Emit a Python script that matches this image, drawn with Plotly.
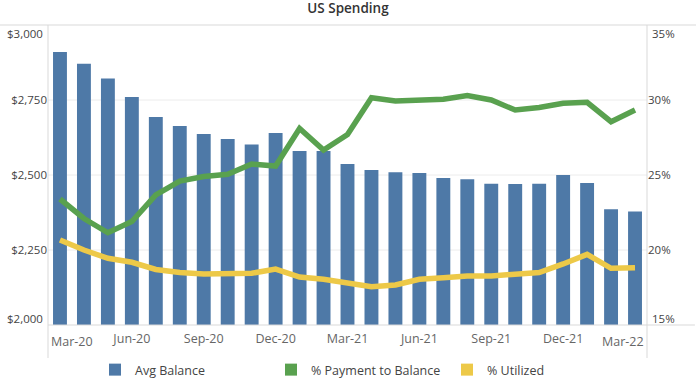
import plotly.graph_objects as go

months = ["Mar-20", "Apr-20", "May-20", "Jun-20", "Jul-20", "Aug-20", "Sep-20", "Oct-20",
          "Nov-20", "Dec-20", "Jan-21", "Feb-21", "Mar-21", "Apr-21", "May-21", "Jun-21",
          "Jul-21", "Aug-21", "Sep-21", "Oct-21", "Nov-21", "Dec-21", "Jan-22", "Feb-22", "Mar-22"]
avg_balance = [2910, 2871, 2822, 2760, 2693, 2663, 2637, 2620, 2602, 2640, 2580, 2580, 2537,
               2517, 2509, 2507, 2490, 2486, 2471, 2470, 2471, 2500, 2473, 2386, 2378]
pct_payment = [23.4, 22.1, 21.15, 21.9, 23.67, 24.6, 24.9, 25.05, 25.73, 25.6, 28.1, 26.67, 27.7,
               30.15, 29.93, 30.0, 30.05, 30.3, 30.0, 29.33, 29.5, 29.78, 29.85, 28.55, 29.33]
pct_utilized = [20.67, 20.0, 19.45, 19.18, 18.7, 18.5, 18.4, 18.4, 18.45, 18.73, 18.2, 18.05, 17.78,
                17.55, 17.67, 18.05, 18.15, 18.27, 18.27, 18.4, 18.5, 19.07, 19.71, 18.78, 18.82]
tick_months = ["Mar-20", "Jun-20", "Sep-20", "Dec-20", "Mar-21", "Jun-21", "Sep-21", "Dec-21", "Mar-22"]
left_ticks = [2000, 2250, 2500, 2750, 3000]
right_ticks = [15, 20, 25, 30, 35]

BLUE = "#4e79a7"
GREEN = "#59a14f"
YELLOW = "#edc948"
FONT = "Open Sans"
TICK_COLOR = "#444"

fig = go.Figure()
fig.add_trace(go.Bar(x=months, y=avg_balance, marker_color=BLUE, marker_line_width=0,
                     name="Avg Balance", showlegend=False))
fig.add_trace(go.Scatter(x=months, y=pct_payment, yaxis="y2", mode="lines",
                         line=dict(color=GREEN, width=5.5), showlegend=False))
fig.add_trace(go.Scatter(x=months, y=pct_utilized, yaxis="y2", mode="lines",
                         line=dict(color=YELLOW, width=5.5), showlegend=False))
# legend-only entries with square swatches
for name, col in [("Avg Balance", BLUE), ("% Payment to Balance", GREEN), ("% Utilized", YELLOW)]:
    fig.add_trace(go.Scatter(x=[None], y=[None], mode="markers", name=name,
                             marker=dict(symbol="square", size=11, color=col)))

inner_x = tick_months[1:-1]
inner_left = left_ticks[1:-1]
inner_right = right_ticks[1:-1]

fig.update_layout(
    width=696, height=382,
    margin=dict(l=48, r=49, t=25, b=57, autoexpand=False),
    paper_bgcolor="white", plot_bgcolor="white",
    font=dict(family=FONT, size=11, color="#555"),
    title=dict(text="US Spending", x=0.5, xanchor="center", y=1 - 8 / 382, yanchor="middle",
               font=dict(family=FONT, size=13.5, color="#333", weight=600)),
    bargap=0.42,
    showlegend=True,
    legend=dict(orientation="h", xref="container", x=95 / 696, xanchor="left",
                yref="container", y=1 - 370 / 382, yanchor="middle",
                entrywidth=131, entrywidthmode="pixels", itemsizing="constant",
                font=dict(family=FONT, size=12.5, color="#444"), itemwidth=30,
                tracegroupgap=0, borderwidth=0),
    xaxis=dict(type="category", tickmode="array", tickvals=inner_x, ticktext=inner_x,
               showgrid=False, showline=False, ticks="", tickfont=dict(size=12.5, color="#666"),
               ticklabelstandoff=4, range=[-0.5, len(months) - 0.5]),
    yaxis=dict(range=[2000, 3000], tickmode="array", tickvals=inner_left,
               ticktext=["$" + format(v, ",") for v in inner_left],
               showgrid=False, zeroline=False, showline=False,
               ticks="", tickfont=dict(size=11.5, color=TICK_COLOR)),
    yaxis2=dict(range=[15, 35], tickmode="array", tickvals=inner_right,
                ticktext=[f"{v}%" for v in inner_right],
                overlaying="y", side="right", showgrid=False, zeroline=False, showline=False,
                ticks="", tickfont=dict(size=11.5, color=TICK_COLOR)),
)

# gridlines at every left tick, drawn beneath the bars
for v in left_ticks[1:-1]:
    fig.add_shape(type="line", xref="paper", yref="y", x0=0, x1=1, y0=v, y1=v,
                  line=dict(color="#ececec", width=1), layer="below")

# edge tick labels nudged inside the plot area, as in the reference
for lab, shift in [(tick_months[0], 12), (tick_months[-1], -12)]:
    fig.add_annotation(x=lab, y=0, xref="x", yref="paper", text=lab, showarrow=False,
                       xshift=shift, yanchor="top", yshift=-6,
                       font=dict(family=FONT, size=12.5, color="#666"))
for v, ys in [(left_ticks[0], 7), (left_ticks[-1], -8)]:
    fig.add_annotation(x=0, y=v, xref="paper", yref="y", text="$" + format(v, ","),
                       showarrow=False, xanchor="right", xshift=-3, yshift=ys,
                       font=dict(family=FONT, size=11.5, color=TICK_COLOR))
for v, ys in [(right_ticks[0], 7), (right_ticks[-1], -8)]:
    fig.add_annotation(x=1, y=v, xref="paper", yref="y2", text=f"{v}%",
                       showarrow=False, xanchor="left", xshift=3, yshift=ys,
                       font=dict(family=FONT, size=11.5, color=TICK_COLOR))

line_style = dict(color="#d9d9d9", width=1)
fig.add_shape(type="line", xref="paper", yref="paper", x0=-0.1, x1=1.1, y0=1, y1=1, line=line_style)
fig.add_shape(type="line", xref="paper", yref="paper", x0=0, x1=1.08, y0=0, y1=0, line=line_style)
fig.add_shape(type="line", xref="paper", yref="paper", x0=0, x1=0, y0=1, y1=-0.11, line=line_style)
fig.add_shape(type="line", xref="paper", yref="paper", x0=1, x1=1, y0=1, y1=-0.11, line=line_style)

fig.write_html("out.html", config={"displayModeBar": False},
               post_script="document.body.style.margin='0';document.body.style.overflow='hidden';")
